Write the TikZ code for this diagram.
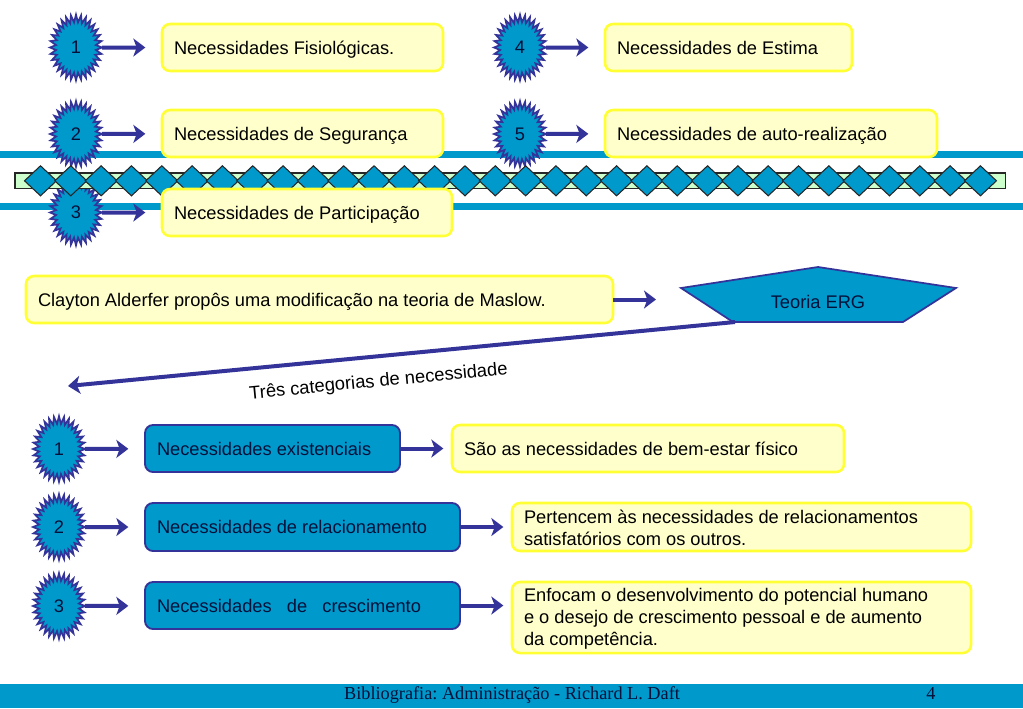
\documentclass[tikz,border=0pt]{standalone}
\usepackage{fontspec}
\setmainfont{Liberation Sans}
\newfontfamily\timesf{Liberation Serif}
\usetikzlibrary{shapes.geometric,arrows.meta}
\AtBeginDocument{\frenchspacing}
\definecolor{bluefill}{HTML}{0099CC}
\definecolor{navy}{HTML}{333399}
\definecolor{yfill}{HTML}{FFFFCC}
\definecolor{yline}{HTML}{FFFF33}
\definecolor{bandfill}{HTML}{CCFFCC}
\definecolor{darktext}{HTML}{00113A}
\newcommand{\squash}[1]{\scalebox{1}[0.79]{#1}}
\newcommand{\firstline}{\rule{0pt}{11.5pt}}
\tikzset{
  x=0.75pt,y=-0.75pt,
  burst/.style={star,star points=32,star point ratio=1.3,minimum size=39pt,inner sep=0pt,outer sep=0pt,
    yscale=1.26,transform shape,
    fill=bluefill,draw=navy,line width=1.3pt,text=darktext,font=\fontsize{13.7}{16}\selectfont},
  arr/.style={draw=navy,line width=3pt,-{Stealth[length=9pt,width=13.5pt,inset=2.5pt]}},
  textbox/.style={rounded corners=6pt,inner ysep=0pt,inner xsep=9pt,outer sep=0pt,align=flush left,anchor=north west,
    font=\fontsize{13.7}{16.5}\selectfont},
  oneline/.style={text height=12pt,text depth=2.2pt},
  ybox/.style={textbox,fill=yfill,draw=yline,line width=1.9pt},
  bbox/.style={textbox,fill=bluefill,draw=navy,line width=1.4pt,text=darktext},
  dia/.style={diamond,aspect=1.07,minimum width=24pt,minimum height=22.5pt,inner sep=0pt,outer sep=0pt,fill=bluefill,draw=black!85,line width=.8pt},
  foottext/.style={anchor=base,text=darktext,font=\timesf\fontsize{13.7}{16}\selectfont},
}
\newcommand{\tbox}[7]{%
  \pgfmathsetmacro{\bw}{(#5-#3)*0.75}\pgfmathsetmacro{\bh}{(#6-#4)*0.75}\pgfmathsetmacro{\tw}{\bw-18}%
  \node[#1,minimum height=\bh pt,text width=\tw pt,minimum width=\bw pt] (#2) at (#3,#4) {#7};}
\begin{document}
\begin{tikzpicture}
\useasboundingbox (0,0) rectangle (1023,708);
% bars and footer
\fill[bluefill] (0,150.5) rectangle (1023,157.5);
\fill[bluefill] (0,203) rectangle (1023,210);
\fill[bluefill] (0,684) rectangle (1023,708);
% stars
\node[burst] (s1) at (76,47.5) {\squash{1}};
\node[burst] (s2) at (76,134) {\squash{2}};
\node[burst] (s3) at (76,212.5) {\squash{3}};
\node[burst] (s4) at (520,47.5) {\squash{4}};
\node[burst] (s5) at (520,134) {\squash{5}};
% band and diamonds
\node[draw=black!85,fill=bandfill,line width=.8pt,minimum width=743pt,minimum height=11.5pt,inner sep=0pt,outer sep=0pt,anchor=north west] (band) at (15,173) {};
\foreach \i in {0,...,31}{
  \pgfmathsetmacro{\dx}{40.5+\i*30.32}
  \node[dia] (d\i) at (\dx,180.8) {};
}
% top boxes
\tbox{ybox,oneline}{b1}{162}{24}{443}{71}{Necessidades Fisiológicas.}
\tbox{ybox,oneline}{b2}{162}{110}{443}{157}{Necessidades de Segurança}
\tbox{ybox,oneline}{b3}{162}{189}{452}{236}{Necessidades de Participação}
\tbox{ybox,oneline}{b4}{605}{24}{852}{71}{Necessidades de Estima}
\tbox{ybox,oneline}{b5}{605}{110}{937}{157}{Necessidades de auto-realização}
\foreach \n in {1,...,5}{\draw[arr,shorten >=12.5pt] (s\n) -- (b\n);}
% Clayton and ERG
\tbox{ybox,oneline}{clay}{26}{276}{613}{323}{Clayton Alderfer propôs uma modificação na teoria de Maslow.}
\coordinate (clayend) at (656,299.5);
\draw[arr] (clay) -- (clayend);
\draw[fill=bluefill,draw=navy,line width=1.3pt] (681,288) -- (818,267) -- (956,288) -- (903,322) -- (733,322) -- cycle;
\node[text=darktext,font=\fontsize{13.7}{16}\selectfont] (erg) at (818,302) {Teoria ERG};
\coordinate (ergfoot) at (735,322);
\coordinate (ergend) at (68,386);
\draw[arr] (ergfoot) -- (ergend);
\node[rotate=5.5,font=\fontsize{13.75}{16}\selectfont] (cat) at (378.5,382) {Três categorias de necessidade};
% lower rows
\node[burst] (t1) at (59,449) {\squash{1}};
\node[burst] (t2) at (59,527) {\squash{2}};
\node[burst] (t3) at (59,606) {\squash{3}};
\tbox{bbox,oneline}{n1}{145}{425}{400}{472}{Necessidades existenciais}
\tbox{bbox,oneline}{n2}{145}{503}{460}{551}{Necessidades de relacionamento}
\tbox{bbox,oneline}{n3}{145}{582}{460}{629}{Necessidades\ \ \ de\ \ \ crescimento}
\tbox{ybox,oneline}{y1}{452}{425}{844}{472}{São as necessidades de bem-estar físico}
\tbox{ybox}{y2}{512}{503}{971}{551}{\firstline Pertencem às necessidades de relacionamentos\\satisfatórios com os outros.}
\tbox{ybox}{y3}{512}{582}{971}{653}{\firstline Enfocam o desenvolvimento do potencial humano\\e o desejo de crescimento pessoal e de aumento\\da competência.}
\foreach \n in {1,2,3}{
  \draw[arr,shorten >=12.5pt] (t\n) -- (n\n);
}
\draw[arr,shorten >=6.5pt] (n1) -- (y1);
\draw[arr,shorten >=6.5pt] (n2) -- (y2);
\draw[arr,shorten >=6.5pt] (n3.east) -- (y3.west |- n3.east);
% footer text
\node[foottext] (foot) at (512,699) {Bibliografia: Administração - Richard L. Daft};
\node[foottext] (page) at (931,699) {4};
\end{tikzpicture}
\end{document}
